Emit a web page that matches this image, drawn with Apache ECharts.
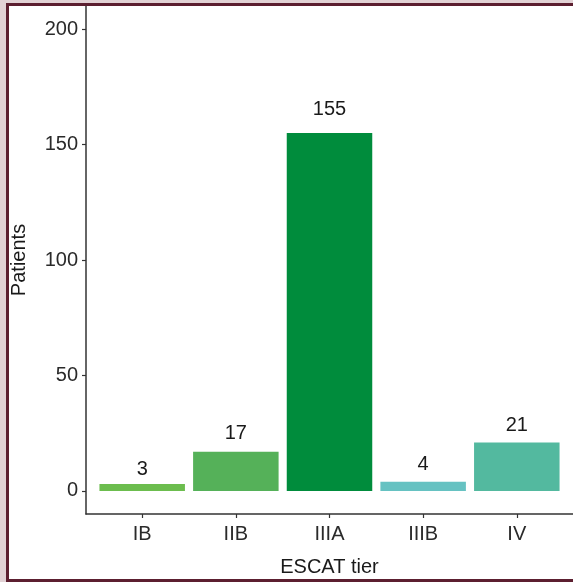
<!DOCTYPE html>
<html>
<head>
<meta charset="utf-8">
<script src="https://cdn.jsdelivr.net/npm/echarts@6/dist/echarts.min.js"></script>
<style>
html,body{margin:0;padding:0;background:#fff;}
#c{width:573px;height:582px;}
</style>
</head>
<body>
<div id="c"></div>
<script>
// Data
const categories = ['IB', 'IIB', 'IIIA', 'IIIB', 'IV'];
const patients = [3, 17, 155, 4, 21];
const yTicks = [0, 50, 100, 150, 200];

// Styles
const barColors = ['#6cbd4e', '#55b159', '#008c3c', '#66c2c2', '#53b99f'];
const labelGaps = [4, 8, 14, 7, 7];
const FONT = '"Liberation Sans", Arial, sans-serif';
const FS = 20;

const chart = echarts.init(document.getElementById('c'), null, {renderer: 'canvas'});

const seriesData = patients.map((v, i) => ({
  value: [i + 1, v],
  itemStyle: {color: barColors[i]},
  label: {distance: labelGaps[i]}
}));

chart.setOption({
  backgroundColor: '#ffffff',
  animation: false,
  grid: {left: 86, top: 6, width: 491, height: 511, containLabel: false},
  xAxis: {
    type: 'value',
    min: 0.4,
    max: 5.6,
    name: 'ESCAT tier',
    nameLocation: 'middle',
    nameGap: 43,
    nameTextStyle: {fontFamily: FONT, fontSize: FS, color: '#1a1a1a'},
    axisLine: {onZero: false, lineStyle: {color: '#333333', width: 1.5}},
    axisTick: {show: true, customValues: [1, 2, 3, 4, 5], length: 4, lineStyle: {color: '#333333', width: 1.2}},
    axisLabel: {
      customValues: [1, 2, 3, 4, 5],
      formatter: v => categories[Math.round(v) - 1] || '',
      margin: 10,
      fontFamily: FONT, fontSize: FS, color: '#2a2a2a'
    },
    splitLine: {show: false}
  },
  yAxis: {
    type: 'value',
    min: -10,
    max: 210,
    name: 'Patients',
    nameLocation: 'middle',
    nameGap: 57,
    nameRotate: 90,
    nameTextStyle: {fontFamily: FONT, fontSize: FS, color: '#1a1a1a'},
    axisLine: {show: true, onZero: false, lineStyle: {color: '#333333', width: 1.5}},
    axisTick: {show: true, customValues: yTicks, length: 4, lineStyle: {color: '#333333', width: 1.2}},
    axisLabel: {
      customValues: yTicks,
      margin: 8,
      fontFamily: FONT, fontSize: FS, color: '#2a2a2a'
    },
    splitLine: {show: false}
  },
  series: [{
    type: 'bar',
    data: seriesData,
    barWidth: 85.5,
    label: {
      show: true,
      position: 'top',
      formatter: p => p.value[1],
      fontFamily: FONT, fontSize: FS, color: '#1a1a1a'
    }
  }],
  graphic: [
    {type: 'rect', shape: {x: 0, y: 0, width: 6, height: 582}, style: {fill: '#e2d2d5'}, silent: true, z: 100},
    {type: 'rect', shape: {x: 0, y: 0, width: 573, height: 3}, style: {fill: '#e2d2d5'}, silent: true, z: 100},
    {type: 'rect', shape: {x: 6, y: 3, width: 3, height: 579}, style: {fill: '#5c1f30'}, silent: true, z: 101},
    {type: 'rect', shape: {x: 6, y: 3, width: 567, height: 3}, style: {fill: '#5c1f30'}, silent: true, z: 101},
    {type: 'rect', shape: {x: 6, y: 579, width: 567, height: 3}, style: {fill: '#5c1f30'}, silent: true, z: 101}
  ]
});
</script>
</body>
</html>
